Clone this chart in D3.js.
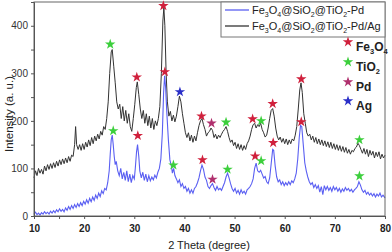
<!DOCTYPE html>
<html>
<head>
<meta charset="utf-8">
<script src="https://cdn.jsdelivr.net/npm/d3@7"></script>
<style>
  body { margin: 0; background: #fff; }
  svg { font-family: "Liberation Sans", Arial, sans-serif; }
</style>
</head>
<body>
<svg width="392" height="252"></svg>
<script>
// XRD patterns: [2theta, intensity]
var pdSeries = [
  [10,4],[10.3,8],[10.6,3],[10.9,6],[11.2,2],[11.5,7],[11.8,4],[12.1,9],[12.4,5],[12.7,8],[13,4],[13.3,10],[13.6,6],[13.9,11],
  [14.2,7],[14.5,13],[14.8,9],[15.1,15],[15.4,10],[15.7,14],[16,9],[16.3,17],[16.6,12],[16.9,20],[17.2,14],[17.5,22],[17.8,16],
  [18.1,24],[18.4,18],[18.7,26],[19,20],[19.3,28],[19.6,22],[19.9,31],[20.2,25],[20.5,34],[20.8,27],[21.1,37],[21.4,30],[21.7,40],
  [22,33],[22.3,44],[22.6,37],[22.9,48],[23.2,41],[23.5,53],[23.8,47],[24.1,58],[24.4,55],[24.7,70],[25,95],[25.2,130],[25.4,160],
  [25.6,170],[25.8,150],[26,125],[26.2,108],[26.4,115],[26.7,95],[27,85],[27.3,100],[27.6,78],[27.9,92],[28.2,75],[28.5,95],
  [28.8,72],[29.1,88],[29.4,70],[29.7,85],[30,78],[30.2,100],[30.45,135],[30.65,150],[30.9,125],[31.1,95],[31.4,80],[31.7,92],
  [32,75],[32.3,88],[32.6,72],[32.9,85],[33.2,74],[33.5,82],[33.8,76],[34.1,86],[34.4,80],[34.7,92],[35,100],[35.3,120],[35.6,175],
  [35.85,260],[36.05,295],[36.25,270],[36.5,215],[36.8,160],[37.1,118],[37.4,105],[37.6,90],[37.85,100],[38.1,85],[38.4,78],
  [38.7,70],[39,76],[39.3,62],[39.6,68],[39.9,58],[40.2,62],[40.5,52],[40.8,58],[41.1,48],[41.4,55],[41.7,48],[42,58],[42.3,62],
  [42.6,70],[42.9,80],[43.2,95],[43.5,107],[43.8,98],[44.1,82],[44.4,75],[44.7,62],[45,58],[45.3,64],[45.6,68],[45.9,60],[46.2,54],
  [46.5,62],[46.8,55],[47.1,58],[47.4,54],[47.7,62],[48,70],[48.3,82],[48.6,90],[48.9,80],[49.2,68],[49.5,58],[49.8,52],[50.1,58],
  [50.4,48],[50.7,54],[51,46],[51.3,55],[51.6,48],[51.9,52],[52.2,46],[52.5,55],[52.8,58],[53.1,62],[53.4,68],[53.7,78],[54,100],
  [54.3,111],[54.6,95],[54.9,92],[55.2,96],[55.5,88],[55.8,80],[56.1,83],[56.4,72],[56.7,68],[57,80],[57.3,110],[57.6,140],
  [57.8,138],[58.1,105],[58.4,82],[58.7,72],[59,76],[59.3,66],[59.6,72],[59.9,64],[60.2,70],[60.5,65],[60.8,72],[61.1,66],
  [61.4,74],[61.7,70],[62,78],[62.3,90],[62.6,120],[62.9,165],[63.15,190],[63.4,188],[63.7,150],[64,112],[64.3,95],[64.6,82],
  [64.9,72],[65.2,66],[65.5,70],[65.8,60],[66.1,66],[66.4,58],[66.7,64],[67,50],[67.3,62],[67.6,45],[67.9,64],[68.2,55],[68.5,62],
  [68.8,54],[69.1,60],[69.4,52],[69.7,62],[70,55],[70.3,60],[70.6,52],[70.9,58],[71.2,50],[71.5,57],[71.8,52],[72.1,60],[72.4,54],
  [72.7,58],[73,52],[73.3,56],[73.6,50],[73.9,55],[74.2,58],[74.5,62],[74.8,72],[75.1,65],[75.4,55],[75.7,50],[76,54],[76.3,46],
  [76.6,50],[76.9,44],[77.2,48],[77.5,42],[77.8,47],[78.1,40],[78.4,46],[78.7,42],[79,48],[79.3,40],[79.6,44],[80,38]
];

var pdAgSeries = [
  [10,80],[10.3,95],[10.6,85],[10.9,100],[11.2,90],[11.5,98],[11.8,88],[12.1,105],[12.4,95],[12.7,108],[13,98],[13.3,110],
  [13.6,100],[13.9,112],[14.2,102],[14.5,115],[14.8,105],[15.1,118],[15.4,108],[15.7,120],[16,110],[16.3,122],[16.6,112],
  [16.9,125],[17.2,115],[17.5,128],[17.8,125],[18.1,150],[18.3,188],[18.5,150],[18.8,140],[19.1,150],[19.4,138],[19.7,152],
  [20,140],[20.3,155],[20.6,145],[20.9,160],[21.2,148],[21.5,165],[21.8,152],[22.1,168],[22.4,158],[22.7,172],[23,162],[23.3,178],
  [23.6,170],[23.9,188],[24.2,182],[24.5,205],[24.8,240],[25.1,300],[25.4,345],[25.6,350],[25.9,315],[26.2,280],[26.5,240],
  [26.8,225],[27.1,235],[27.4,205],[27.7,230],[28,200],[28.3,222],[28.6,195],[28.9,215],[29.2,188],[29.5,178],[29.8,205],
  [30.1,235],[30.4,270],[30.6,282],[30.9,255],[31.2,225],[31.5,205],[31.8,222],[32.1,195],[32.4,215],[32.7,190],[33,210],
  [33.3,185],[33.6,205],[33.9,182],[34.2,200],[34.5,190],[34.8,205],[35.1,230],[35.4,300],[35.7,410],[35.9,438],[36.1,400],
  [36.35,300],[36.6,240],[36.9,210],[37.2,220],[37.5,200],[37.8,212],[38.1,198],[38.4,210],[38.7,230],[39,252],[39.3,240],
  [39.6,215],[39.9,195],[40.2,175],[40.5,165],[40.8,175],[41.1,158],[41.4,170],[41.7,155],[42,168],[42.3,158],[42.6,175],
  [42.9,190],[43.2,200],[43.5,205],[43.8,192],[44.1,182],[44.4,168],[44.7,175],[45,178],[45.3,185],[45.6,180],[45.9,165],
  [46.2,172],[46.5,162],[46.8,170],[47.1,165],[47.4,172],[47.7,178],[48,182],[48.3,188],[48.6,178],[48.9,165],[49.2,155],
  [49.5,160],[49.8,148],[50.1,155],[50.4,142],[50.7,152],[51,140],[51.3,150],[51.6,138],[51.9,148],[52.2,140],[52.5,152],
  [52.8,158],[53.1,168],[53.4,182],[53.7,192],[54,195],[54.3,185],[54.6,192],[54.9,188],[55.2,195],[55.5,182],[55.8,175],
  [56.1,166],[56.4,170],[56.7,185],[57,205],[57.3,222],[57.6,226],[57.9,210],[58.2,185],[58.5,168],[58.8,160],[59.1,166],
  [59.4,155],[59.7,163],[60,152],[60.3,162],[60.6,150],[60.9,160],[61.2,152],[61.5,162],[61.8,158],[62.1,170],[62.4,188],
  [62.7,225],[63,265],[63.25,280],[63.5,260],[63.8,215],[64.1,195],[64.4,175],[64.7,168],[65,172],[65.3,160],[65.6,168],
  [65.9,155],[66.2,165],[66.5,152],[66.8,162],[67.1,150],[67.4,160],[67.7,148],[68,158],[68.3,146],[68.6,156],[68.9,144],
  [69.2,155],[69.5,142],[69.8,152],[70.1,140],[70.4,150],[70.7,138],[71,148],[71.3,136],[71.6,146],[71.9,134],[72.2,144],
  [72.5,132],[72.8,140],[73.1,130],[73.4,138],[73.7,135],[74,142],[74.3,145],[74.6,153],[74.9,148],[75.2,140],[75.5,132],
  [75.8,142],[76.1,130],[76.4,140],[76.7,125],[77,138],[77.3,128],[77.6,136],[77.9,122],[78.2,134],[78.5,125],[78.8,135],
  [79.1,120],[79.4,130],[79.7,122],[80,128]
];

// peak markers: [2theta, intensity, phase]
var peakStars = [
  [25.2,361,"TiO2"],[30.5,292,"Fe3O4"],[35.8,442,"Fe3O4"],[39.1,261,"Ag"],[43.4,210,"Fe3O4"],[45.4,195,"Pd"],
  [48.3,197,"TiO2"],[53.6,204,"Fe3O4"],[55.3,200,"TiO2"],[57.6,236,"Fe3O4"],[63.3,288,"Fe3O4"],[74.9,160,"TiO2"],
  [25.8,179,"TiO2"],[30.7,169,"Fe3O4"],[36.1,303,"Fe3O4"],[37.8,107,"TiO2"],[43.6,118,"Fe3O4"],[45.6,77,"Pd"],
  [48.6,98,"TiO2"],[54.1,126,"Fe3O4"],[55.3,116,"TiO2"],[57.7,154,"Fe3O4"],[63.3,198,"Fe3O4"],[74.9,84,"TiO2"]
];

var phases = ["Fe3O4", "TiO2", "Pd", "Ag"];
var phaseColors = ["#d0203c", "#3ccf3c", "#b0306e", "#2a2fc8"];
var xTicks = [10, 20, 30, 40, 50, 60, 70, 80];
var yTicks = [0, 100, 200, 300, 400];

var svg = d3.select("svg");
var plotLeft = 34, plotRight = 385, plotTop = 2, plotBottom = 216;

var x = d3.scaleLinear().domain([10, 80]).range([plotLeft, plotRight]);
var y = d3.scaleLinear().domain([0, 450]).range([plotBottom, plotTop]);
var color = d3.scaleOrdinal().domain(phases).range(phaseColors);

var line = d3.line()
    .x(function(d) { return x(d[0]); })
    .y(function(d) { return y(d[1]); });

// curves
svg.append("path")
    .datum(pdAgSeries)
    .attr("fill", "none")
    .attr("stroke", "#333")
    .attr("stroke-width", 1)
    .attr("d", line);

svg.append("path")
    .datum(pdSeries)
    .attr("fill", "none")
    .attr("stroke", "#5a5ff2")
    .attr("stroke-width", 1.1)
    .attr("d", line);

// frame
svg.append("rect")
    .attr("x", plotLeft).attr("y", plotTop)
    .attr("width", plotRight - plotLeft).attr("height", plotBottom - plotTop)
    .attr("fill", "none")
    .attr("stroke", "#666");

// axes
var xAxis = svg.append("g")
    .attr("transform", "translate(0," + plotBottom + ")")
    .call(d3.axisBottom(x).tickValues(d3.range(10, 81, 5)).tickSize(3)
      .tickFormat(function(d) { return xTicks.indexOf(d) >= 0 ? d : ""; }));
xAxis.select(".domain").attr("stroke", "#555");
xAxis.selectAll(".tick line").attr("stroke", "#555");
xAxis.selectAll("text")
    .attr("font-size", 10).attr("font-weight", "bold").attr("fill", "#222").attr("dy", "0.95em");

var yAxis = svg.append("g")
    .attr("transform", "translate(" + plotLeft + ",0)")
    .call(d3.axisLeft(y).tickValues(d3.range(0, 451, 50)).tickSize(3)
      .tickFormat(function(d) { return yTicks.indexOf(d) >= 0 ? d : ""; }));
yAxis.select(".domain").attr("stroke", "#555");
yAxis.selectAll(".tick line").attr("stroke", "#555");
yAxis.selectAll("text").attr("font-size", 10).attr("fill", "#333");

// axis titles
svg.append("text")
    .attr("x", 209).attr("y", 249)
    .attr("text-anchor", "middle")
    .attr("font-size", 11).attr("fill", "#222")
    .text("2 Theta (degree)");

svg.append("text")
    .attr("transform", "translate(13,114) rotate(-90)")
    .attr("text-anchor", "middle")
    .attr("font-size", 11.5).attr("fill", "#222")
    .text("Intensity (a. u.)");

// peak stars
var star = d3.symbol().type(d3.symbolStar).size(34);
svg.append("g").selectAll("path")
    .data(peakStars)
    .enter().append("path")
    .attr("d", star)
    .attr("transform", function(d) { return "translate(" + x(d[0]) + "," + y(d[1]) + ")"; })
    .attr("fill", function(d) { return color(d[2]); });

// series legend
var legend = svg.append("g");
legend.append("rect")
    .attr("x", 221).attr("y", 2).attr("width", 164).attr("height", 35)
    .attr("fill", "#fff").attr("stroke", "#777");

var seriesNames = [["Fe", "3", "O", "4", "@SiO", "2", "@TiO", "2", "-Pd"],
                   ["Fe", "3", "O", "4", "@SiO", "2", "@TiO", "2", "-Pd/Ag"]];
var seriesColors = ["#5a5ff2", "#333"];

seriesNames.forEach(function(parts, i) {
  var ly = 10 + i * 16;
  legend.append("line")
      .attr("x1", 225).attr("x2", 249).attr("y1", ly).attr("y2", ly)
      .attr("stroke", seriesColors[i]).attr("stroke-width", 1.3);
  var t = legend.append("text")
      .attr("x", 252).attr("y", ly + 4)
      .attr("font-size", 11).attr("fill", "#222");
  parts.forEach(function(p, j) {
    var sub = j % 2 === 1;
    t.append("tspan")
        .attr("font-size", sub ? 7 : 11)
        .attr("dy", sub ? 2.5 : (j > 0 ? -2.5 : 0))
        .text(p);
  });
});

// phase legend
var phaseLabels = [["Fe", "3", "O", "4"], ["TiO", "2"], ["Pd"], ["Ag"]];
var phaseY = [42, 62, 82, 101];
phases.forEach(function(p, i) {
  svg.append("path")
      .attr("d", star)
      .attr("transform", "translate(348," + phaseY[i] + ")")
      .attr("fill", color(p));
  var t = svg.append("text")
      .attr("x", 356).attr("y", phaseY[i] + 9)
      .attr("font-size", 12).attr("font-weight", "bold").attr("fill", "#222");
  phaseLabels[i].forEach(function(s, j) {
    var sub = j % 2 === 1;
    t.append("tspan")
        .attr("font-size", sub ? 7.5 : 12)
        .attr("dy", sub ? 2.5 : (j > 0 ? -2.5 : 0))
        .text(s);
  });
});
</script>
</body>
</html>
